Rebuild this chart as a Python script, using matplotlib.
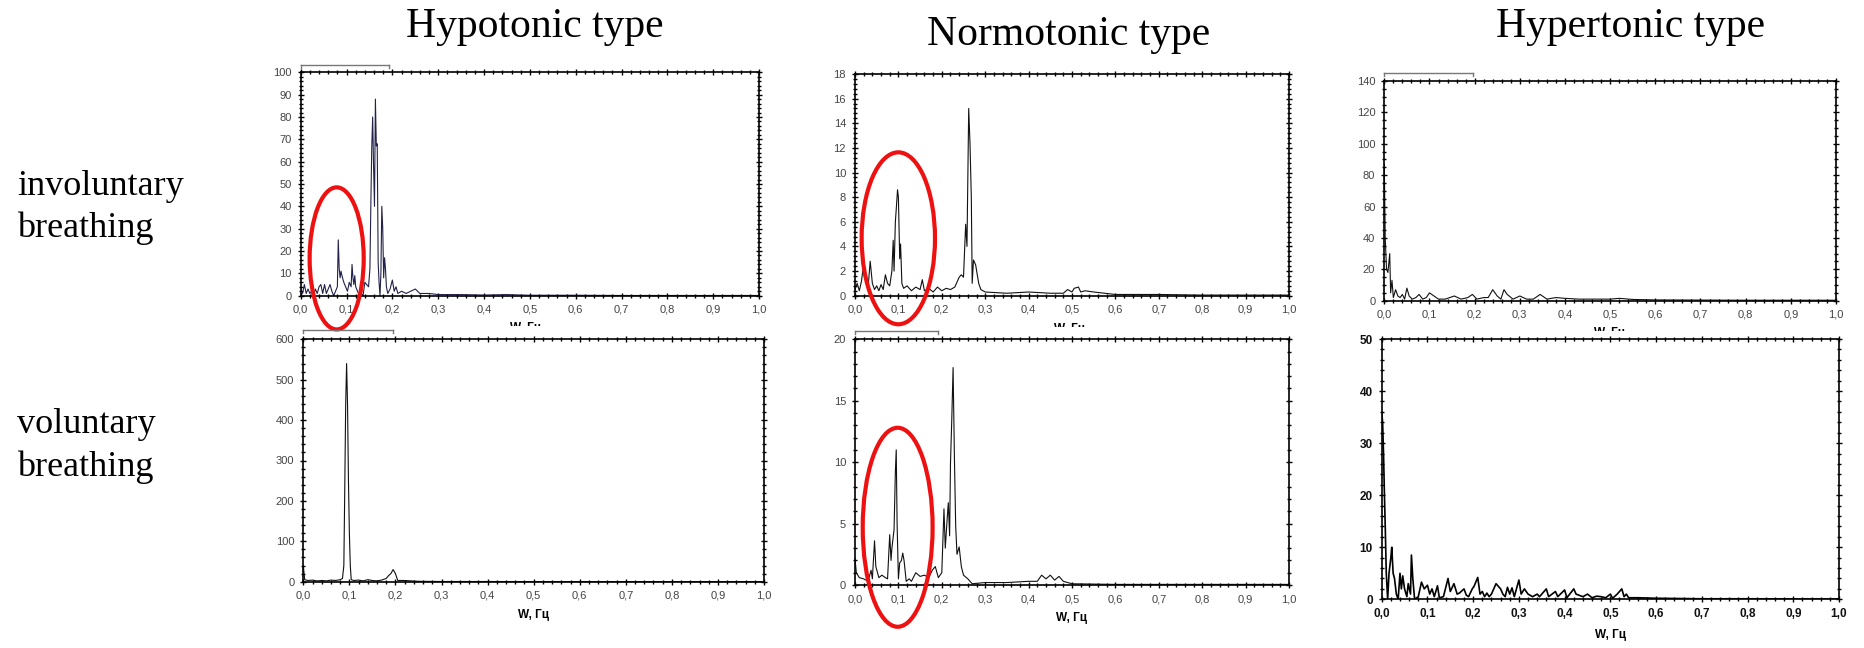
import matplotlib
matplotlib.use("Agg")
import matplotlib.pyplot as plt
from matplotlib.patches import Ellipse
from matplotlib.ticker import MultipleLocator, FuncFormatter
from matplotlib.lines import Line2D
from matplotlib.transforms import Bbox

# ---- spectra (frequency in Hz, amplitude) ----
hypo_inv_f = [0.000, 0.004, 0.008, 0.012, 0.016, 0.020, 0.024, 0.028, 0.032, 0.036,
              0.040, 0.044, 0.048, 0.052, 0.056, 0.060, 0.064, 0.068, 0.072, 0.076,
              0.080, 0.082, 0.084, 0.086, 0.088, 0.090, 0.094, 0.098, 0.102, 0.106,
              0.110, 0.112, 0.114, 0.116, 0.118, 0.120, 0.124, 0.128, 0.132, 0.136,
              0.140, 0.144, 0.148, 0.151, 0.153, 0.155, 0.157, 0.159, 0.161, 0.163,
              0.165, 0.167, 0.169, 0.171, 0.173, 0.175, 0.177, 0.179, 0.181, 0.183,
              0.185, 0.187, 0.190, 0.195, 0.200, 0.204, 0.208, 0.212, 0.220, 0.230,
              0.240, 0.250, 0.260, 0.280, 0.300, 0.350, 0.400, 0.450, 0.500, 0.600,
              0.700, 0.800, 0.900, 1.000]
hypo_inv_a = [3, 1, 5, 1, 3, 1, 2, 0, 3, 1,
              4, 5, 1, 5, 1, 3, 5, 2, 0, 2,
              4, 25, 12, 8, 11, 9, 6, 4, 2, 6,
              4, 14, 8, 5, 9, 4, 2, 0, 1, 0,
              6, 5, 4, 12, 40, 66, 80, 58, 40, 88,
              67, 68, 15, 6, 0, 10, 40, 30, 8, 17,
              12, 4, 1, 3, 7, 2, 4, 1, 2, 1,
              2, 3, 1, 1, 0.5, 0.5, 0.3, 0.5, 0.2, 0.2,
              0.1, 0.1, 0.1, 0.1]

normo_inv_f = [0.000, 0.005, 0.010, 0.015, 0.020, 0.025, 0.030, 0.035, 0.040, 0.045,
               0.050, 0.055, 0.060, 0.065, 0.070, 0.075, 0.080, 0.085, 0.088, 0.090,
               0.093, 0.095, 0.098, 0.100, 0.103, 0.105, 0.108, 0.112, 0.120, 0.130,
               0.140, 0.150, 0.155, 0.160, 0.170, 0.180, 0.190, 0.200, 0.210, 0.220,
               0.230, 0.240, 0.245, 0.250, 0.255, 0.258, 0.262, 0.265, 0.268, 0.270,
               0.273, 0.278, 0.285, 0.290, 0.300, 0.350, 0.400, 0.450, 0.480, 0.490,
               0.500, 0.505, 0.515, 0.520, 0.530, 0.550, 0.600, 0.700, 0.800, 0.900, 1.000]
normo_inv_a = [0.5, 1.0, 0.4, 1.2, 2.6, 1.5, 0.6, 2.8, 1.0, 0.5,
               0.8, 0.4, 0.9, 0.5, 1.7, 1.0, 0.8, 2.0, 4.5, 2.0,
               6.0, 7.0, 8.6, 8.0, 3.0, 4.2, 1.0, 0.6, 0.8, 0.4,
               0.7, 0.5, 1.3, 0.4, 0.6, 0.3, 0.7, 0.4, 0.6, 0.5,
               0.7, 1.5, 1.7, 1.5, 5.8, 4.0, 15.2, 12.3, 8.0, 1.0,
               2.9, 2.5, 1.0, 0.5, 0.3, 0.2, 0.3, 0.2, 0.2, 0.5,
               0.3, 0.6, 0.7, 0.3, 0.4, 0.3, 0.1, 0.1, 0.05, 0.05, 0.05]

hyper_inv_f = [0.000, 0.002, 0.005, 0.008, 0.012, 0.014, 0.017, 0.020, 0.025, 0.030,
               0.035, 0.040, 0.045, 0.050, 0.055, 0.062, 0.070, 0.077, 0.085, 0.093,
               0.100, 0.110, 0.120, 0.135, 0.155, 0.170, 0.185, 0.195, 0.205, 0.220,
               0.230, 0.240, 0.250, 0.258, 0.265, 0.272, 0.285, 0.300, 0.315, 0.330,
               0.345, 0.360, 0.380, 0.400, 0.430, 0.460, 0.500, 0.520, 0.550, 0.600,
               0.700, 0.800, 0.900, 1.000]
hyper_inv_a = [87, 40, 20, 18, 30, 5, 13, 2, 7, 3,
               2, 4, 1, 8, 3, 1, 2, 4, 1, 2,
               5, 3, 1, 1, 3, 1, 2, 4, 1, 2,
               2, 7, 3, 1, 7, 4, 1, 3, 1, 1,
               4, 1, 2, 1.5, 1, 1, 1, 1.5, 0.8, 0.5,
               0.4, 0.3, 0.3, 0.3]

hypo_vol_f = [0.000, 0.003, 0.010, 0.020, 0.030, 0.040, 0.050, 0.060, 0.070, 0.080,
              0.085, 0.088, 0.090, 0.092, 0.094, 0.096, 0.098, 0.100, 0.102, 0.104,
              0.110, 0.120, 0.130, 0.140, 0.150, 0.160, 0.170, 0.180, 0.185, 0.190,
              0.195, 0.200, 0.205, 0.220, 0.250, 0.300, 0.400, 0.500, 0.700, 1.000]
hypo_vol_a = [40, 5, 3, 4, 2, 3, 2, 4, 3, 5,
              8, 40, 230, 440, 540, 440, 250, 120, 40, 5,
              3, 4, 2, 5, 3, 2, 4, 8, 15, 20,
              30, 20, 3, 3, 1, 0.5, 0.5, 0.3, 0.3, 0.3]

normo_vol_f = [0.000, 0.003, 0.010, 0.020, 0.030, 0.037, 0.040, 0.045, 0.048, 0.055,
               0.062, 0.070, 0.075, 0.080, 0.083, 0.085, 0.090, 0.093, 0.095, 0.097,
               0.100, 0.103, 0.107, 0.110, 0.113, 0.118, 0.125, 0.130, 0.140, 0.150,
               0.160, 0.170, 0.178, 0.185, 0.192, 0.200, 0.205, 0.208, 0.212, 0.215,
               0.218, 0.220, 0.223, 0.226, 0.229, 0.232, 0.235, 0.240, 0.245, 0.250,
               0.260, 0.270, 0.300, 0.350, 0.400, 0.420, 0.430, 0.440, 0.450, 0.460,
               0.470, 0.480, 0.500, 0.600, 0.700, 0.800, 0.900, 1.000]
normo_vol_a = [2.2, 1.0, 0.6, 0.5, 0.3, 1.2, 0.5, 3.6, 1.5, 0.6,
               0.8, 0.6, 0.5, 4.1, 2.0, 3.0, 4.5, 9.2, 11.0, 5.0,
               0.5, 1.8, 2.0, 2.6, 2.0, 0.3, 0.5, 0.3, 1.0, 0.7,
               0.8, 0.6, 1.2, 1.5, 0.6, 1.0, 6.2, 3.0, 5.2, 6.7,
               4.0, 9.9, 13.5, 17.7, 10.5, 4.8, 2.5, 3.1, 1.5, 0.8,
               0.5, 0.1, 0.2, 0.2, 0.3, 0.3, 0.8, 0.5, 0.8, 0.4,
               0.7, 0.3, 0.1, 0.05, 0.05, 0.05, 0.05, 0.05]

hyper_vol_f = [0.000, 0.002, 0.004, 0.006, 0.008, 0.010, 0.013, 0.016, 0.020, 0.022,
               0.025, 0.028, 0.032, 0.036, 0.040, 0.043, 0.046, 0.050, 0.055, 0.058,
               0.063, 0.065, 0.068, 0.072, 0.080, 0.087, 0.093, 0.100, 0.105, 0.110,
               0.115, 0.122, 0.126, 0.135, 0.145, 0.150, 0.158, 0.165, 0.170, 0.180,
               0.185, 0.190, 0.198, 0.202, 0.210, 0.215, 0.220, 0.225, 0.230, 0.235,
               0.240, 0.250, 0.260, 0.265, 0.270, 0.275, 0.280, 0.285, 0.290, 0.300,
               0.305, 0.312, 0.320, 0.330, 0.340, 0.345, 0.360, 0.365, 0.380, 0.385,
               0.400, 0.405, 0.420, 0.425, 0.440, 0.450, 0.460, 0.470, 0.480, 0.490,
               0.500, 0.505, 0.515, 0.525, 0.530, 0.535, 0.540, 0.560, 0.600, 0.700,
               0.800, 1.000]
hyper_vol_a = [36, 34, 28, 20, 13, 5, 0, 5, 8, 10,
               5, 4, 1, 0, 5, 2, 4.5, 2, 0.5, 3,
               1, 8.5, 4, 0, 0.5, 3.3, 2, 2.7, 1, 2,
               0.5, 2.6, 0.3, 0.5, 4, 1.5, 3, 1, 1.2, 2,
               0.8, 0.5, 2, 2.5, 4.2, 1, 1.5, 0.5, 1.2, 0.5,
               1, 3, 2, 1, 0.5, 2.3, 1, 2.2, 0.5, 3.7,
               1, 2, 1, 0.5, 1, 0.5, 2, 0.5, 1.5, 0.5,
               1.8, 0.3, 2, 1, 0.5, 1, 0.3, 0.6, 0.5, 0.3,
               1, 0.2, 1, 2, 0.5, 1, 0.3, 0.3, 0.2, 0.1,
               0.1, 0.05]

col_titles = ["Hypotonic type", "Normotonic type", "Hypertonic type"]
row_labels = [["involuntary", "breathing"], ["voluntary", "breathing"]]
y_max = [100, 18, 140, 600, 20, 50]
y_major = [10, 2, 20, 100, 5, 10]
y_minor = [2, 0.4, 5, 20, 1, 2]

W, H = 1865, 648
fig = plt.figure(figsize=(W / 100, H / 100), dpi=100)
fig.patch.set_facecolor("white")


def px_axes(left, top, right, bottom):
    return fig.add_axes([left / W, 1 - bottom / H, (right - left) / W, (bottom - top) / H])


boxes = [(300.7, 72.3, 759, 295.7), (855, 74, 1289, 295.7), (1384.3, 81, 1836, 300.7),
         (303.3, 339.3, 764, 581.7), (855, 339.3, 1289, 585), (1381.7, 339, 1839, 599.3)]
series = [(hypo_inv_f, hypo_inv_a), (normo_inv_f, normo_inv_a), (hyper_inv_f, hyper_inv_a),
          (hypo_vol_f, hypo_vol_a), (normo_vol_f, normo_vol_a), (hyper_vol_f, hyper_vol_a)]
line_colors = ["#22224a", "#111111", "#111111", "#111111", "#111111", "#000000"]
line_widths = [0.8, 0.8, 0.8, 0.8, 0.8, 1.2]

comma = FuncFormatter(lambda v, p: f"{v:.1f}".replace(".", ","))

axes = []
for i, box in enumerate(boxes):
    ax = px_axes(*box)
    f, a = series[i]
    ax.plot(f, a, color=line_colors[i], lw=line_widths[i])
    ax.set_xlim(0, 1)
    ax.set_ylim(0, y_max[i])
    ax.xaxis.set_major_locator(MultipleLocator(0.1))
    ax.xaxis.set_minor_locator(MultipleLocator(0.02))
    ax.yaxis.set_major_locator(MultipleLocator(y_major[i]))
    ax.yaxis.set_minor_locator(MultipleLocator(y_minor[i]))
    ax.xaxis.set_major_formatter(comma)
    bold = i == 5
    lab_col = "#111111" if bold else "#444444"
    ax.tick_params(which="both", direction="inout", top=True, right=True,
                   width=1.0, color="black")
    ax.tick_params(which="major", length=5, pad=4, labelsize=8.5 if bold else 8,
                   labelcolor=lab_col)
    ax.tick_params(which="minor", length=2.5)
    for lab in ax.get_xticklabels() + ax.get_yticklabels():
        lab.set_family(["Liberation Sans", "DejaVu Sans"])
        if bold:
            lab.set_fontweight("bold")
    for s in ax.spines.values():
        s.set_linewidth(1.2)
    axes.append(ax)

# bottom row axis labels
for ax in axes[3:]:
    ax.set_xlabel("W, Гц", fontsize=8.5, fontweight="bold",
                  family=["Liberation Sans", "DejaVu Sans"], labelpad=6)

# top row axis labels, cut off by the panels below
for cx, ty in [(525, 322), (1070, 323), (1610, 327)]:
    t = fig.text(cx / W, 1 - ty / H, "W, Гц", ha="center", va="top", fontsize=8.5,
                 fontweight="bold", family=["Liberation Sans", "DejaVu Sans"])
    t.set_clip_box(Bbox.from_extents(cx - 40, H - ty - 4, cx + 40, H - ty + 2))
    t.set_clip_on(True)

# red ellipses (centre freq, centre amplitude, width, height)
ellipses = [(0, 0.0785, 16.7, 0.118, 63.6), (1, 0.0998, 4.66, 0.169, 13.96),
            (4, 0.0983, 4.70, 0.161, 16.2)]
for k, cx, cy, w, h in ellipses:
    axes[k].add_patch(Ellipse((cx, cy), w, h, fill=False, edgecolor="#ee1111",
                              lw=3.0, clip_on=False, zorder=5))

# small toolbar brackets above some panels
for x0, x1, y in [(300.7, 389, 65), (1384, 1473, 73.3), (303, 393, 330), (855, 938, 331)]:
    for xs, ys in [([x0, x1], [y, y]), ([x0, x0], [y, y + 3]), ([x1, x1], [y, y + 3])]:
        fig.add_artist(Line2D([v / W for v in xs], [1 - v / H for v in ys],
                              color="#777777", lw=1.0))

# column titles and row labels
serif = ["Liberation Serif", "DejaVu Serif"]
for title, cx, by in zip(col_titles, [535, 1069, 1631], [36.7, 45, 37]):
    fig.text(cx / W, 1 - by / H, title, ha="center", va="baseline", fontsize=30, family=serif)
for lines, bases in zip(row_labels, [(195, 237), (433, 476)]):
    for txt, by in zip(lines, bases):
        fig.text(17 / W, 1 - by / H, txt, ha="left", va="baseline", fontsize=26, family=serif)

fig.savefig("out.png", dpi=100, facecolor="white")
